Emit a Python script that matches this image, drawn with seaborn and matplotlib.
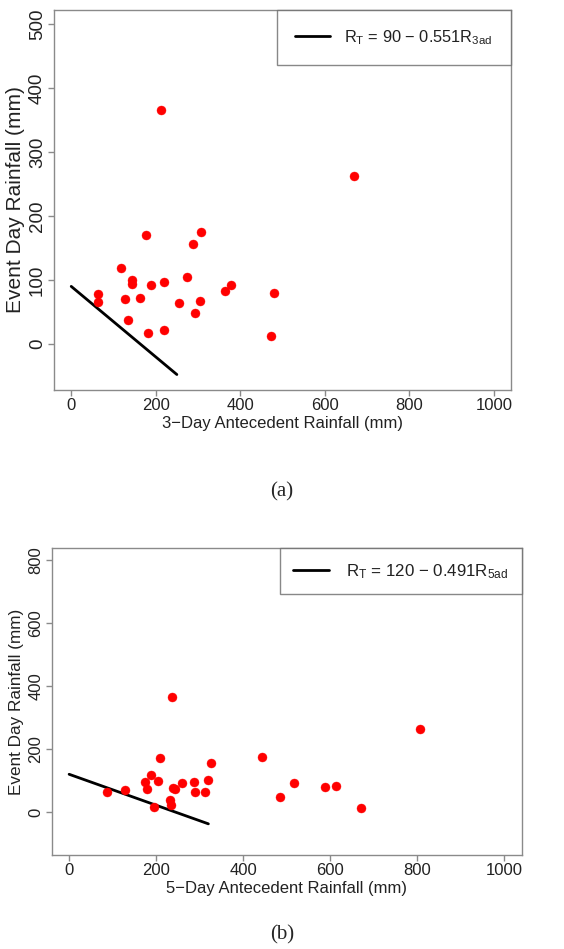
import matplotlib
matplotlib.use("Agg")
import matplotlib.pyplot as plt
import numpy as np
import pandas as pd
import seaborn as sns

# panel (a): 3-day antecedent rainfall vs event day rainfall
ant3 = [212, 668, 178, 307, 289, 118, 145, 145, 219, 273, 189, 63, 63,
        127, 163, 255, 304, 363, 377, 481, 134, 294, 181, 219, 472]
event3 = [365, 263, 170, 175, 156, 119, 100, 94, 97, 104, 92, 78, 65,
          71, 72, 64, 67, 83, 92, 80, 38, 48, 17, 22, 12]
line3_x = [0, 250]
line3_y = [90, -47.75]
label3 = "R$_T$ = 90 \u2212 0.551R$_{3ad}$"

# panel (b): 5-day antecedent rainfall vs event day rainfall
ant5 = [237, 806, 209, 444, 327, 187, 174, 205, 179, 87, 129, 260, 287,
        320, 238, 243, 289, 313, 232, 234, 196, 485, 516, 588, 614, 670]
event5 = [364, 262, 170, 175, 156, 118, 96, 99, 73, 63, 71, 91, 97,
          103, 77, 72, 64, 65, 39, 22, 17, 47, 92, 79, 83, 13]
line5_x = [0, 320]
line5_y = [120, -37.1]
label5 = "R$_T$ = 120 \u2212 0.491R$_{5ad}$"

sns.set_theme(style="white")
plt.rcParams["font.family"] = ["Liberation Sans", "DejaVu Sans"]
plt.rcParams["mathtext.default"] = "regular"

fig = plt.figure(figsize=(5.64, 9.49), dpi=100)
ax_a = fig.add_axes([0.0963, 0.589, 0.8092, 0.4005])
ax_b = fig.add_axes([0.0917, 0.099, 0.8333, 0.3232])


def draw_panel(ax, xs, ys, lx, ly, label, xlabel, ylim, yticks, ytick_fs, ylab_fs,
               borderpad, leg_fs, text_pad):
    df = pd.DataFrame({"x": xs, "y": ys})
    line_df = pd.DataFrame({"x": lx, "y": ly})
    sns.lineplot(data=line_df, x="x", y="y", ax=ax, color="black", linewidth=2.0, label=label)
    sns.scatterplot(data=df, x="x", y="y", ax=ax, color="red", s=42, edgecolor="red",
                    linewidth=0.3, zorder=3, legend=False)
    ax.set_xlim(-40, 1040)
    ax.set_ylim(*ylim)
    ax.set_xticks([0, 200, 400, 600, 800, 1000])
    ax.set_yticks(yticks)
    for sp in ax.spines.values():
        sp.set_color("#8a8a8a")
        sp.set_linewidth(1.0)
    ax.tick_params(axis="both", direction="out", length=4, width=1.0, color="#8a8a8a",
                   bottom=True, left=True, labelcolor="#222222")
    ax.tick_params(axis="x", labelsize=12, pad=2)
    ax.tick_params(axis="y", labelsize=ytick_fs, pad=2)
    for t in ax.get_yticklabels():
        t.set_rotation(90)
        t.set_va("center")
    ax.set_xlabel(xlabel, fontsize=12, color="#222222", labelpad=2)
    ax.set_ylabel("Event Day Rainfall (mm)", fontsize=ylab_fs, color="#222222", labelpad=3)
    leg = ax.legend(loc="upper right", borderaxespad=0, fancybox=False, frameon=True,
                    fontsize=leg_fs, handlelength=2.1, handletextpad=text_pad,
                    borderpad=borderpad)
    leg.get_frame().set_edgecolor("#6a6a6a")
    leg.get_frame().set_linewidth(1.0)
    for t in leg.get_texts():
        t.set_color("#222222")


draw_panel(ax_a, ant3, event3, line3_x, line3_y, label3,
           "3\u2212Day Antecedent Rainfall (mm)", (-72, 522),
           [0, 100, 200, 300, 400, 500], 13.5, 15, 1.1, 11.8, 0.9)
draw_panel(ax_b, ant5, event5, line5_x, line5_y, label5,
           "5\u2212Day Antecedent Rainfall (mm)", (-136, 836),
           [0, 200, 400, 600, 800], 12, 12.3, 0.8, 12.2, 1.0)

fig.text(0.5, 0.4816, "(a)", ha="center", va="center", fontsize=15,
         family=["Liberation Serif", "DejaVu Serif"])
fig.text(0.5, 0.0147, "(b)", ha="center", va="center", fontsize=15,
         family=["Liberation Serif", "DejaVu Serif"])

fig.savefig("out.png", dpi=100)
